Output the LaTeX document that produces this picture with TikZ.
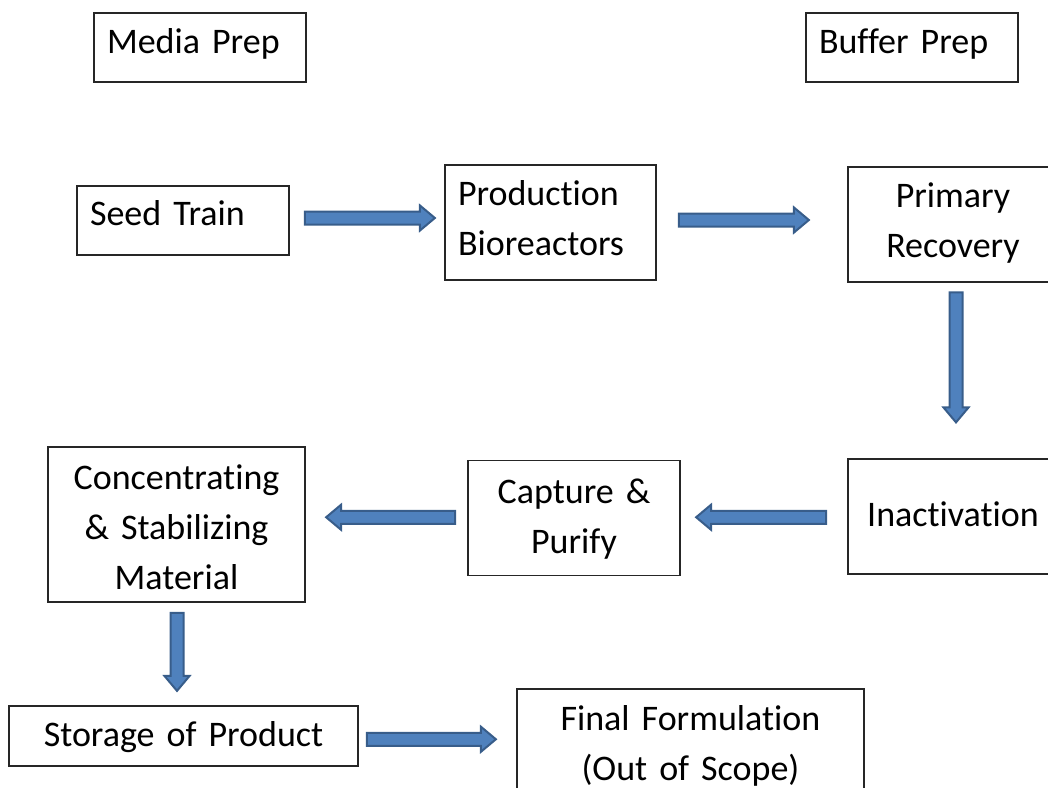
\documentclass[tikz,border=0pt]{standalone}
\usepackage{fontspec}
\setmainfont{Carlito}[Ligatures=NoCommon]
\usetikzlibrary{shapes.arrows,calc}
\definecolor{arrowfill}{HTML}{4F81BD}
\definecolor{arrowedge}{HTML}{385D8A}
\tikzset{
stepbox/.style={draw=black!85,line width=1.2pt,inner xsep=13pt,inner ysep=0pt,
  font=\fontsize{36}{50}\selectfont,execute at begin node=\strut,text depth=15pt},
leftbox/.style={stepbox,align=left},
midbox/.style={stepbox,align=center},
blockarrow/.style={single arrow,draw=arrowedge,fill=arrowfill,line width=2pt,
  inner sep=5.5pt,single arrow head extend=6pt,single arrow tip angle=80,
  single arrow head indent=0pt}
}
\begin{document}
\begin{tikzpicture}[x=1pt,y=-1pt]
\useasboundingbox (0,0) rectangle (1048,787);
\clip (0,0) rectangle (1048,787);
\node[leftbox,text width=186pt,minimum height=69pt,text depth=24pt]
(media) at (200,47.5) {Media Prep};
\node[leftbox,text width=186pt,minimum height=69pt,text depth=24pt]
(buffer) at (912,47.5) {Buffer Prep};
\node[leftbox,text width=186pt,minimum height=69pt,text depth=26pt]
(seed) at (183,220.5) {Seed Train};
\node[leftbox,text width=185pt,minimum height=115pt,text depth=70pt]
(prod) at (550.5,222.5) {Production\\Bioreactors};
\node[midbox,text width=184pt,minimum height=115pt,text depth=70pt]
(primary) at (953,224.5) {Primary\\Recovery};
\node[midbox,text width=184pt,minimum height=115pt]
(inact) at (953,516.5) {Inactivation};
\node[midbox,text width=186pt,minimum height=115pt,text depth=65pt]
(capture) at (574,518) {Capture \&\\Purify};
\node[midbox,text width=231pt,minimum height=155pt,text depth=106pt]
(conc) at (176.5,524.5) {Concentrating\\\& Stabilizing\\Material};
\node[midbox,text width=323pt,minimum height=60pt]
(storage) at (183.5,736) {Storage of Product};
\node[midbox,text width=321pt,minimum height=115pt,text depth=68pt]
(final) at (690.5,746.5) {Final Formulation\\(Out of Scope)};
\node[blockarrow,minimum height=130pt]
(a1) at ($(seed.east)!.5!(prod.west)+(-1,-3.5)$) {};
\node[blockarrow,minimum height=130pt]
(a2) at ($(prod.east)!.5!(primary.west)+(-12,-3.5)$) {};
\node[blockarrow,minimum height=130pt,rotate=-90]
(a3) at ($(primary.south)!.5!(inact.north)+(3,-17)$) {};
\node[blockarrow,minimum height=130pt,rotate=180]
(a4) at ($(inact.west)!.5!(capture.east)+(1,0)$) {};
\node[blockarrow,minimum height=129pt,rotate=180]
(a5) at ($(capture.west)!.5!(conc.east)+(8,-4)$) {};
\node[blockarrow,minimum height=78pt,rotate=-90]
(a6) at ($(conc.south)!.5!(storage.north)+(-3,-6)$) {};
\node[blockarrow,minimum height=129pt]
(a7) at ($(storage.east)!.5!(final.west)+(-10,-2)$) {};
\end{tikzpicture}
\end{document}
